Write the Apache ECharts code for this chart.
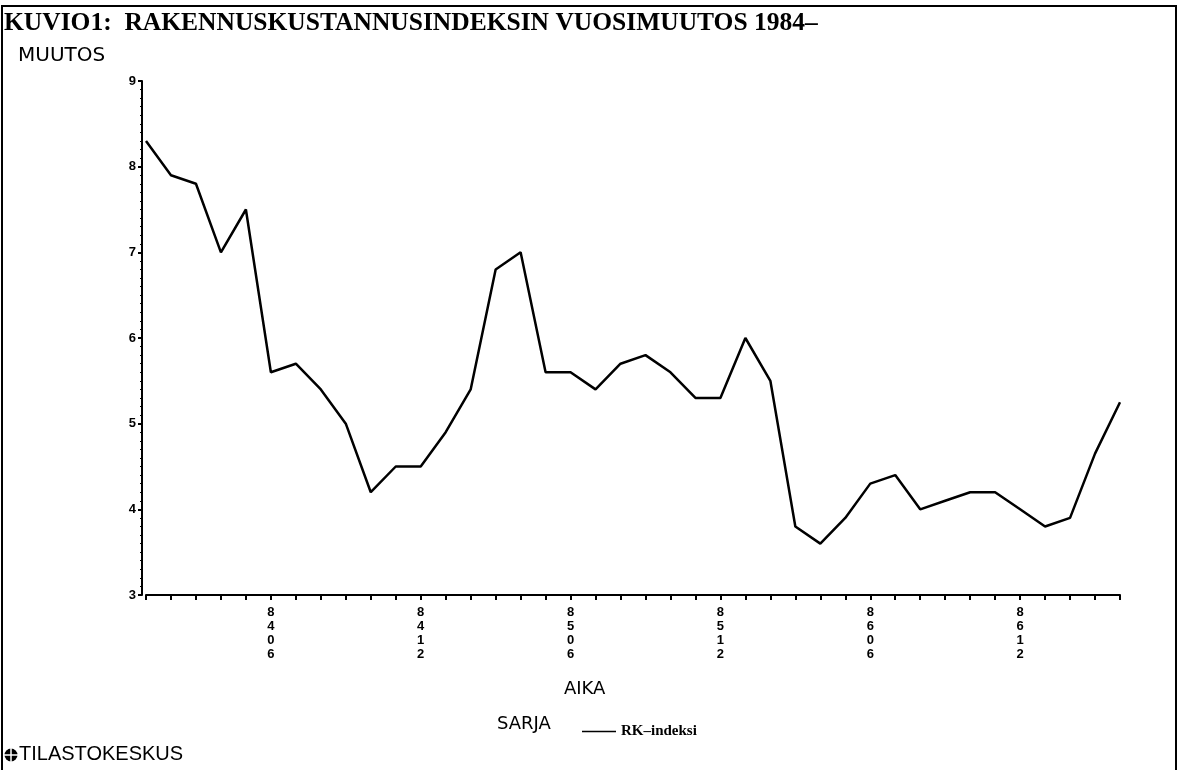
<!DOCTYPE html>
<html>
<head>
<meta charset="utf-8">
<script src="https://cdn.jsdelivr.net/npm/echarts@6/dist/echarts.min.js"></script>
<style>
html,body{margin:0;padding:0;background:#fff;}
#chart{width:1178px;height:773px;}
</style>
</head>
<body>
<div id="chart"></div>
<script>
// Months (YYMM) 1984-01 .. 1987-04
const months = ['8401','8402','8403','8404','8405','8406','8407','8408','8409','8410','8411','8412',
                '8501','8502','8503','8504','8505','8506','8507','8508','8509','8510','8511','8512',
                '8601','8602','8603','8604','8605','8606','8607','8608','8609','8610','8611','8612',
                '8701','8702','8703','8704'];
// Annual change of building cost index (%)
const rkIndeksi = [8.3, 7.9, 7.8, 7.0, 7.5, 5.6, 5.7, 5.4, 5.0, 4.2, 4.5, 4.5,
                   4.9, 5.4, 6.8, 7.0, 5.6, 5.6, 5.4, 5.7, 5.8, 5.6, 5.3, 5.3,
                   6.0, 5.5, 3.8, 3.6, 3.9, 4.3, 4.4, 4.0, 4.1, 4.2, 4.2, 4.0,
                   3.8, 3.9, 4.65, 5.25];
const labeledMonths = ['8406','8412','8506','8512','8606','8612'];
const yTicks = [3, 4, 5, 6, 7, 8, 9];

const chart = echarts.init(document.getElementById('chart'), null, {renderer: 'canvas'});
const option = {
  backgroundColor: '#ffffff',
  animation: false,
  grid: {left: 146, right: 58, top: 81, bottom: 178, containLabel: false},
  xAxis: {
    type: 'category',
    data: months,
    boundaryGap: false,
    axisLine: {show: true, lineStyle: {color: '#000', width: 2}},
    axisTick: {show: true, interval: 0, length: 5, lineStyle: {color: '#000', width: 2}},
    axisLabel: {
      interval: function (i, v) { return labeledMonths.indexOf(v) >= 0; },
      formatter: function (v) { return v.split('').join('\n'); },
      fontFamily: 'Liberation Sans', fontWeight: 'bold', fontSize: 13,
      lineHeight: 14, color: '#000', margin: 10
    },
    splitLine: {show: false}
  },
  yAxis: {
    type: 'value',
    min: 3, max: 9, interval: 1,
    offset: 4,
    axisLine: {show: true, lineStyle: {color: '#000', width: 2}},
    axisTick: {show: true, length: 4, lineStyle: {color: '#000', width: 2}},
    minorTick: {show: true, splitNumber: 10, length: 2, lineStyle: {color: '#000', width: 1}},
    axisLabel: {
      formatter: function (v) { return yTicks.indexOf(v) >= 0 ? String(v) : ''; },
      fontFamily: 'Liberation Sans', fontWeight: 'bold', fontSize: 13, color: '#000', margin: 6
    },
    splitLine: {show: false}
  },
  legend: {
    show: true,
    left: 577, top: 719,
    itemWidth: 34, itemHeight: 10, itemGap: 8,
    icon: 'path://M0,4 L34,4 L34,5.5 L0,5.5 Z',
    textStyle: {fontFamily: 'Liberation Serif', fontWeight: 'bold', fontSize: 15, color: '#000'},
    data: [{name: 'RK–indeksi', itemStyle: {color: '#000'}}]
  },
  series: [{
    name: 'RK–indeksi',
    type: 'line',
    data: rkIndeksi,
    showSymbol: false,
    symbol: 'none',
    lineStyle: {color: '#000', width: 2.5},
    itemStyle: {color: '#000'}
  }],
  graphic: [
    {type: 'polyline', shape: {points: [[2, 770], [2, 6], [1176, 6], [1176, 770]]},
     style: {stroke: '#000', lineWidth: 2, fill: null}},
    {type: 'text', left: 4, top: 10,
     style: {text: 'KUVIO1:  RAKENNUSKUSTANNUSINDEKSIN VUOSIMUUTOS 1984–',
             font: 'bold 25.5px "Liberation Serif"', fill: '#000'}},
    {type: 'text', left: 18, top: 46,
     style: {text: 'MUUTOS', font: '20px "DejaVu Sans"', fill: '#000'}},
    {type: 'text', left: 564, top: 680,
     style: {text: 'AIKA', font: '18px "DejaVu Sans"', fill: '#000'}},
    {type: 'text', left: 497, top: 715,
     style: {text: 'SARJA', font: '18px "DejaVu Sans"', fill: '#000'}},
    {type: 'circle', shape: {cx: 11, cy: 755, r: 6.5}, style: {fill: '#000'}},
    {type: 'line', shape: {x1: 11, y1: 748, x2: 11, y2: 762}, style: {stroke: '#fff', lineWidth: 1.5}},
    {type: 'line', shape: {x1: 4, y1: 755, x2: 18, y2: 755}, style: {stroke: '#fff', lineWidth: 1.5}},
    {type: 'text', left: 19, top: 744,
     style: {text: 'TILASTOKESKUS', font: '20px "Liberation Sans"', fill: '#000'}}
  ]
};
chart.setOption(option);
</script>
</body>
</html>
